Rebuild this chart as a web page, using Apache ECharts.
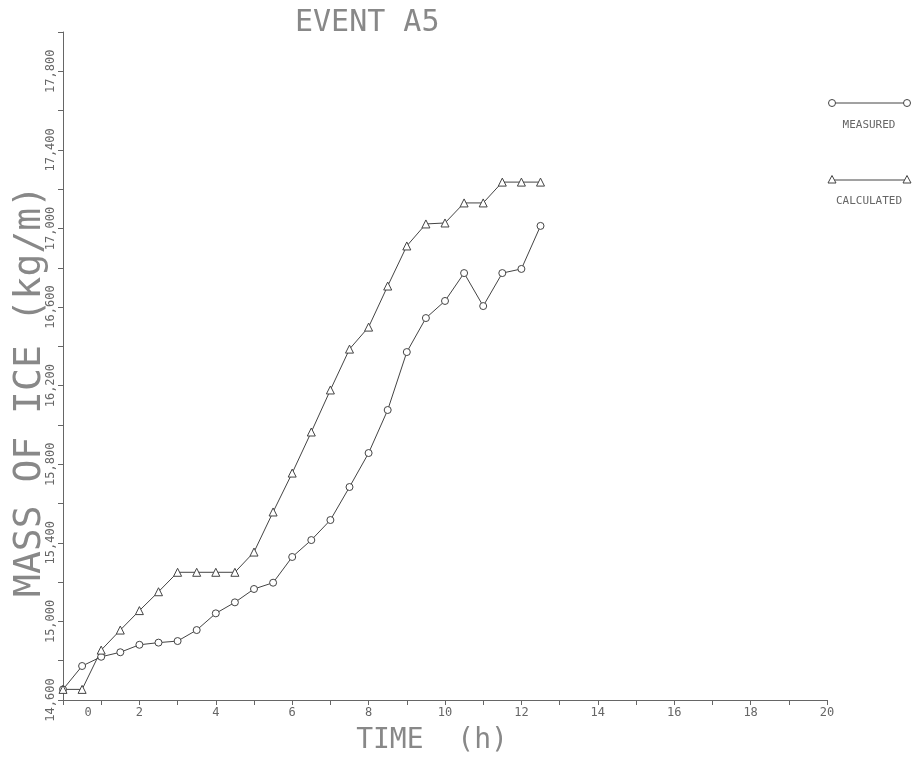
<!DOCTYPE html>
<html>
<head>
<meta charset="utf-8">
<script src="https://cdn.jsdelivr.net/npm/echarts@6/dist/echarts.min.js"></script>
<style>html,body{margin:0;padding:0;background:#fff}#c{width:916px;height:778px}</style>
</head>
<body>
<div id="c"></div>
<script>
// time in hours
const hours = [0,0.5,1,1.5,2,2.5,3,3.5,4,4.5,5,5.5,6,6.5,7,7.5,8,8.5,9,9.5,10,10.5,11,11.5,12,12.5];
// mass of ice (kg/m)
const measured = [14654,14773,14820,14843,14881,14892,14900,14956,15041,15097,15165,15197,15328,15414,15516,15684,15857,16076,16371,16544,16631,16773,16605,16773,16794,17013];
const calculated = [14654,14654,14854,14956,15055,15151,15250,15250,15250,15250,15353,15557,15755,15964,16178,16386,16498,16707,16911,17023,17028,17130,17130,17236,17236,17236];
const seriesNames = ['MEASURED','CALCULATED'];
const xTickLabels = [0,2,4,6,8,10,12,14,16,18,20];
const yTickLabels = [14600,15000,15400,15800,16200,16600,17000,17400,17800];

const FONT = 'DejaVu Sans Mono';
const INK = '#444';
const chart = echarts.init(document.getElementById('c'), null, {renderer:'canvas'});

function fmtThousands(v){ return String(v).replace(/\B(?=(\d{3})+(?!\d))/g, ','); }

const legendItems = [
  {name: seriesNames[0], symbol: 'circle', lineY: 103, textY: 125},
  {name: seriesNames[1], symbol: 'triangle', lineY: 180, textY: 201}
];
const graphics = [];
legendItems.forEach(it => {
  graphics.push({type:'line', shape:{x1:832,y1:it.lineY,x2:907,y2:it.lineY}, style:{stroke:INK, lineWidth:1}});
  [832,907].forEach(x => {
    if (it.symbol === 'circle') {
      graphics.push({type:'circle', shape:{cx:x, cy:it.lineY, r:3.5}, style:{fill:'#fff', stroke:INK, lineWidth:1}});
    } else {
      graphics.push({type:'polygon', shape:{points:[[x,it.lineY-4.5],[x-4,it.lineY+3],[x+4,it.lineY+3]]}, style:{fill:'#fff', stroke:INK, lineWidth:1}});
    }
  });
  graphics.push({type:'text', x:869, y:it.textY, style:{text:it.name, font:'11px "DejaVu Sans Mono"', fill:'#666', textAlign:'center', textVerticalAlign:'middle'}});
});

chart.setOption({
  animation: false,
  backgroundColor: '#fff',
  title: {
    text: 'EVENT A5', left: 290, top: 3,
    textStyle: {fontFamily: FONT, fontSize: 30, fontWeight: 'normal', color: '#888'}
  },
  grid: {left: 63, right: 89, top: 32, bottom: 78, containLabel: false, outerBoundsMode: 'none'},
  xAxis: {
    type: 'value', min: 0, max: 20, interval: 1,
    name: 'TIME  (h)', nameLocation: 'middle', nameGap: 27, nameMoveOverlap: false,
    nameTextStyle: {fontFamily: FONT, fontSize: 28, color: '#888', padding: [0, 26, 0, 0]},
    axisLine: {lineStyle: {color: '#666', width: 1}},
    axisTick: {show: true, inside: false, length: 5, lineStyle: {color: '#666'}},
    splitLine: {show: false},
    axisLabel: {
      margin: 7, fontFamily: FONT, fontSize: 12, color: '#666',
      formatter: v => {
        if (!xTickLabels.includes(v)) return '';
        return v === 0 ? '{s|0}' : String(v);
      },
      rich: {s: {padding: [0,0,0,50], fontFamily: FONT, fontSize: 12, color: '#666'}}
    }
  },
  yAxis: {
    type: 'value', min: 14600, max: 18000, interval: 200,
    name: 'MASS OF ICE (kg/m)', nameLocation: 'middle', nameGap: 14, nameMoveOverlap: false,
    nameTextStyle: {fontFamily: FONT, fontSize: 38, color: '#888', padding: [0, 50, 0, 0]},
    axisLine: {show: true, lineStyle: {color: '#666', width: 1}},
    axisTick: {show: true, inside: false, length: 5, lineStyle: {color: '#666'}},
    splitLine: {show: false},
    axisLabel: {
      rotate: 90, margin: 6, fontFamily: FONT, fontSize: 12, color: '#666',
      formatter: v => yTickLabels.includes(v) ? fmtThousands(v) : ''
    }
  },
  series: [
    {
      name: seriesNames[0], type: 'line',
      data: hours.map((h,i) => [h, measured[i]]),
      symbol: 'circle', symbolSize: 7,
      lineStyle: {color: INK, width: 1},
      itemStyle: {color: '#fff', borderColor: INK, borderWidth: 1}
    },
    {
      name: seriesNames[1], type: 'line',
      data: hours.map((h,i) => [h, calculated[i]]),
      symbol: 'triangle', symbolSize: 8,
      lineStyle: {color: INK, width: 1},
      itemStyle: {color: '#fff', borderColor: INK, borderWidth: 1}
    }
  ],
  graphic: graphics
});
</script>
</body>
</html>
